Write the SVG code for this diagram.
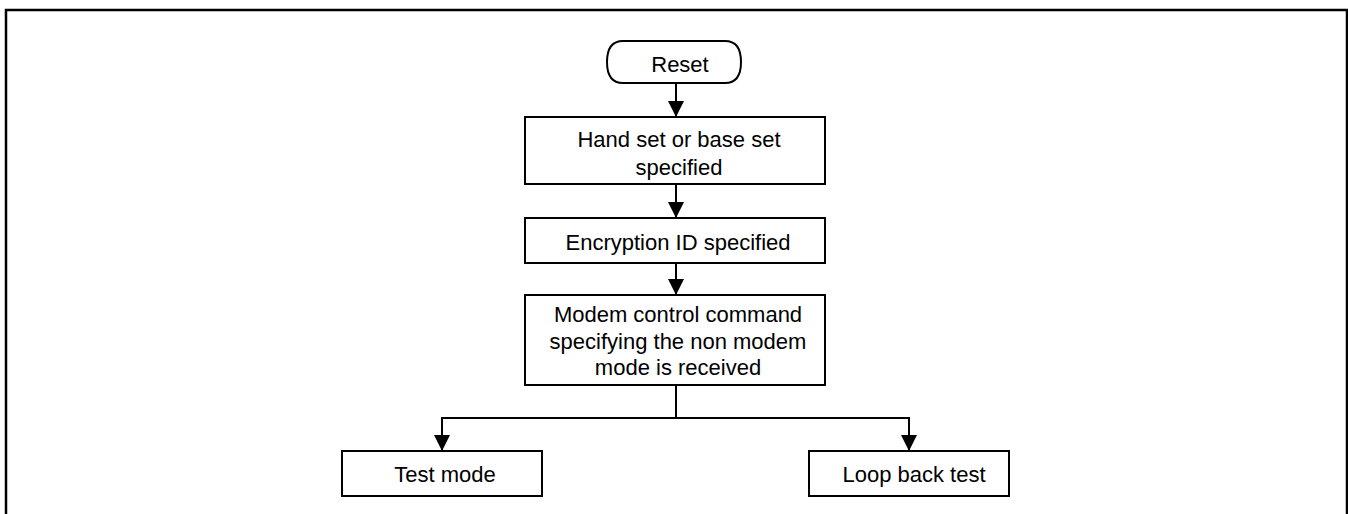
<svg xmlns="http://www.w3.org/2000/svg" width="1348" height="514" viewBox="0 0 1348 514">
<defs>
<marker id="ah" markerWidth="16" markerHeight="16" viewBox="0 0 16 16" refX="16" refY="8" orient="auto" markerUnits="userSpaceOnUse">
<path d="M0,0 L16,8 L0,16 Z" fill="#000"/>
</marker>
</defs>
<style>
.box{fill:#fff;stroke:#000;stroke-width:2}
.t{font-family:"Liberation Sans",Arial,sans-serif;font-size:22px;fill:#000;text-anchor:middle}
.c{fill:none;stroke:#000;stroke-width:2}
</style>
<rect x="0" y="0" width="1348" height="514" fill="#fff"/>
<rect x="6" y="10" width="1341" height="520" fill="none" stroke="#000" stroke-width="2.5"/>
<g id="connectors">
<path class="c" d="M676,83 L676,117" marker-end="url(#ah)"/>
<path class="c" d="M676,184 L676,218" marker-end="url(#ah)"/>
<path class="c" d="M676,263 L676,295" marker-end="url(#ah)"/>
<path class="c" d="M676,385 L676,418"/>
<path class="c" d="M442,418 L909,418"/>
<path class="c" d="M442,417 L442,451" marker-end="url(#ah)"/>
<path class="c" d="M909,417 L909,451" marker-end="url(#ah)"/>
</g>
<g id="reset">
<path class="box" d="M623,41 H725 Q741,41 741,62 Q741,83 725,83 H623 Q607,83 607,62 Q607,41 623,41 Z"/>
<text class="t" x="680" y="72">Reset</text>
</g>
<g id="handset">
<rect class="box" x="525" y="117" width="300" height="67"/>
<text class="t" x="679" y="147">Hand set or base set</text>
<text class="t" x="679" y="175">specified</text>
</g>
<g id="encryption">
<rect class="box" x="525" y="218" width="300" height="45"/>
<text class="t" x="678" y="250">Encryption ID specified</text>
</g>
<g id="modem">
<rect class="box" x="525" y="295" width="300" height="90"/>
<text class="t" x="678" y="322">Modem control command</text>
<text class="t" x="678" y="349">specifying the non modem</text>
<text class="t" x="678" y="375">mode is received</text>
</g>
<g id="testmode">
<rect class="box" x="342" y="451" width="200" height="45"/>
<text class="t" x="445" y="482">Test mode</text>
</g>
<g id="loopback">
<rect class="box" x="809" y="451" width="200" height="45"/>
<text class="t" x="914" y="482">Loop back test</text>
</g>
</svg>
